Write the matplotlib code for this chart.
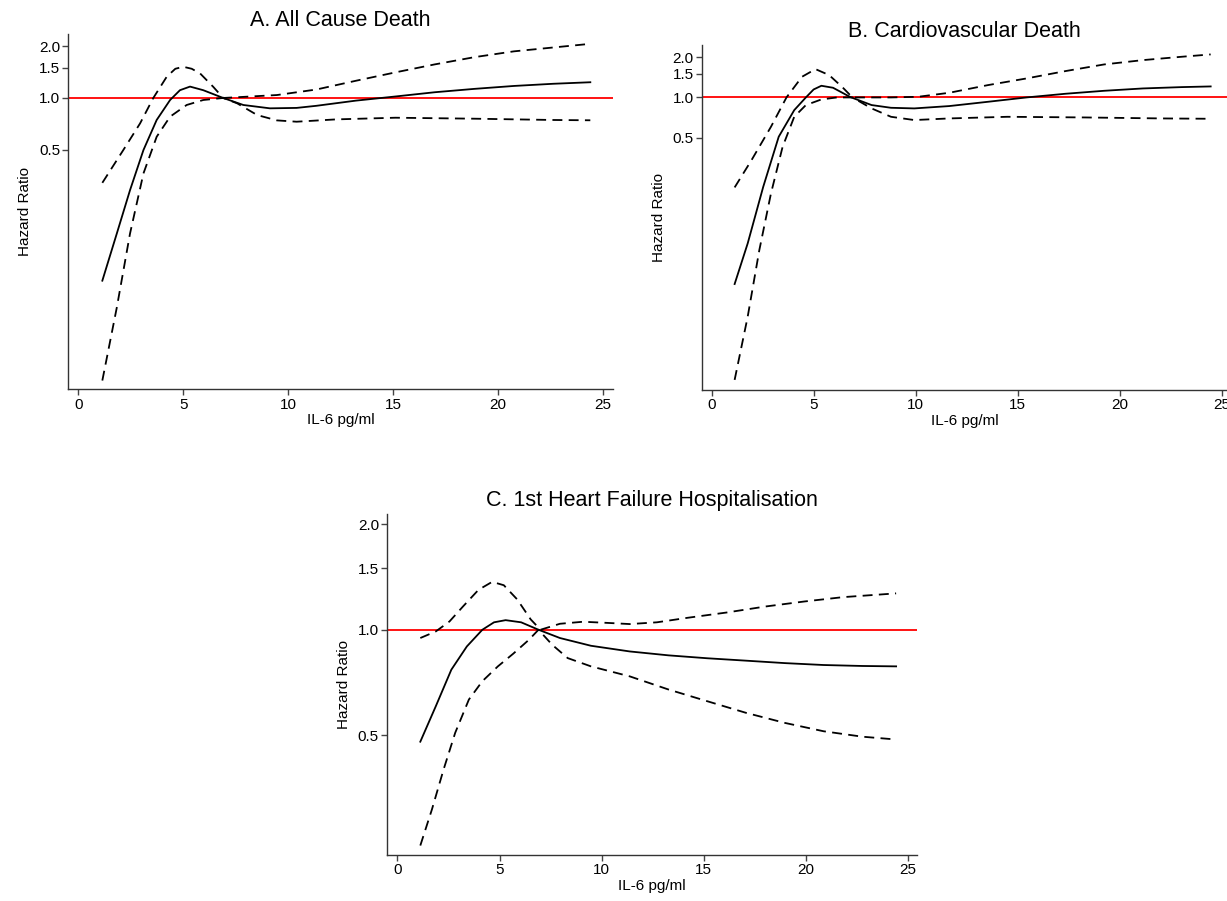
import matplotlib
matplotlib.use("Agg")
import matplotlib.pyplot as plt

plt.rcParams['font.family'] = ['Liberation Sans', 'DejaVu Sans']

# ---- A. All cause death ----
a_hr_x = [1.14, 1.83, 2.46, 3.10, 3.73, 4.37, 4.84, 5.32, 5.95, 6.90, 7.86, 9.13, 10.40,
          11.34, 13.23, 15.11, 16.99, 18.88, 20.76, 22.64, 24.40]
a_hr = [0.086, 0.162, 0.29, 0.497, 0.744, 0.973, 1.11, 1.165, 1.11, 1.0, 0.91, 0.87, 0.875,
        0.90, 0.965, 1.02, 1.08, 1.13, 1.175, 1.21, 1.235]
a_hi_x = [1.14, 2.14, 2.94, 3.57, 4.21, 4.62, 5.0, 5.40, 5.80, 6.43, 6.90, 7.57, 9.46, 11.34,
          13.23, 15.11, 16.99, 18.88, 20.76, 22.64, 24.25]
a_hi = [0.32, 0.497, 0.711, 1.0, 1.33, 1.48, 1.52, 1.48, 1.39, 1.16, 1.0, 1.01, 1.04, 1.12,
        1.26, 1.41, 1.57, 1.73, 1.87, 1.97, 2.06]
a_lo_x = [1.14, 1.83, 2.46, 3.10, 3.73, 4.37, 5.16, 5.95, 6.90, 7.57, 8.52, 9.46, 10.40,
          12.28, 15.11, 18.88, 22.64, 24.40]
a_lo = [0.0225, 0.060, 0.162, 0.363, 0.594, 0.778, 0.91, 0.973, 1.0, 0.93, 0.795, 0.74,
        0.727, 0.75, 0.767, 0.757, 0.744, 0.741]

# ---- B. Cardiovascular death ----
b_hr_x = [1.13, 1.77, 2.53, 3.29, 4.05, 4.62, 5.0, 5.38, 5.95, 6.80, 7.84, 8.79, 9.93, 11.64,
          13.54, 15.43, 17.33, 19.23, 21.13, 23.02, 24.45]
b_hr = [0.0405, 0.0814, 0.215, 0.509, 0.804, 1.0, 1.147, 1.222, 1.181, 1.006, 0.877, 0.837,
        0.828, 0.862, 0.928, 1.0, 1.065, 1.121, 1.167, 1.194, 1.208]
b_hi_x = [1.13, 1.96, 2.91, 3.67, 4.43, 5.09, 5.76, 6.42, 6.90, 8.79, 10.12, 11.64, 13.54,
          15.43, 17.33, 19.23, 21.13, 23.02, 24.45]
b_hi = [0.213, 0.341, 0.604, 1.0, 1.426, 1.627, 1.468, 1.188, 1.0, 1.0, 1.011, 1.083, 1.236,
        1.386, 1.572, 1.763, 1.899, 2.011, 2.094]
b_lo_x = [1.13, 1.77, 2.34, 2.91, 3.48, 4.05, 4.62, 5.38, 6.14, 6.90, 7.84, 8.79, 9.93, 11.64,
          14.49, 18.28, 22.08, 24.45]
b_lo = [0.0078, 0.0231, 0.0726, 0.192, 0.428, 0.717, 0.877, 0.966, 1.0, 1.0, 0.828, 0.717,
        0.678, 0.697, 0.717, 0.709, 0.697, 0.693]

# ---- C. 1st heart failure hospitalisation ----
c_hr_x = [1.12, 1.88, 2.64, 3.40, 4.16, 4.73, 5.30, 6.06, 6.91, 7.96, 9.48, 11.38, 13.28,
          15.18, 17.08, 18.98, 20.88, 22.78, 24.43]
c_hr = [0.479, 0.605, 0.769, 0.896, 1.0, 1.05, 1.065, 1.05, 1.0, 0.947, 0.90, 0.867, 0.845,
        0.829, 0.816, 0.803, 0.793, 0.788, 0.786]
c_hi_x = [1.12, 1.88, 2.55, 3.21, 3.97, 4.64, 5.21, 5.87, 6.53, 7.01, 7.96, 9.10, 10.43, 11.38,
          12.71, 14.23, 16.13, 18.03, 19.93, 21.83, 24.43]
c_hi = [0.947, 0.989, 1.056, 1.165, 1.30, 1.37, 1.34, 1.22, 1.07, 1.0, 1.04, 1.054, 1.045,
        1.038, 1.05, 1.082, 1.12, 1.165, 1.204, 1.239, 1.27]
c_lo_x = [1.12, 1.69, 2.26, 2.83, 3.50, 4.16, 4.92, 5.68, 6.44, 6.91, 7.58, 8.34, 9.48, 11.38,
          13.28, 15.18, 17.08, 18.98, 20.88, 22.78, 24.43]
c_lo = [0.242, 0.307, 0.399, 0.508, 0.632, 0.713, 0.786, 0.855, 0.936, 1.0, 0.906, 0.83, 0.786,
        0.736, 0.675, 0.625, 0.579, 0.542, 0.513, 0.495, 0.486]

y_ticks = [0.5, 1.0, 1.5, 2.0]
y_tick_labels = ['0.5', '1.0', '1.5', '2.0']
x_ticks = [0, 5, 10, 15, 20, 25]

panels = [
    ('A. All Cause Death', a_hr_x, a_hr, a_hi_x, a_hi, a_lo_x, a_lo),
    ('B. Cardiovascular Death', b_hr_x, b_hr, b_hi_x, b_hi, b_lo_x, b_lo),
    ('C. 1st Heart Failure Hospitalisation', c_hr_x, c_hr, c_hi_x, c_hi, c_lo_x, c_lo),
]

# axes rectangles and limits (figure fractions), matched to the reference layout
rects = [[0.0557, 0.5679, 0.4437, 0.3940],
         [0.5721, 0.5671, 0.4279, 0.3829],
         [0.3156, 0.0511, 0.4317, 0.3781]]
xlims = [(-0.48, 25.47), (-0.47, 25.25), (-0.5, 25.45)]
ylims = [(0.02, 2.35), (0.00655, 2.46), (0.2275, 2.136)]

fig = plt.figure(figsize=(12.27, 9.01), dpi=100)

for (title, hx, hy, ux, uy, lx, ly), rect, xl, yl in zip(panels, rects, xlims, ylims):
    ax = fig.add_axes(rect)
    ax.set_yscale('log')
    ax.axhline(1.0, color='red', linewidth=1.3, zorder=1)
    ax.plot(hx, hy, color='black', linewidth=1.3, zorder=3)
    ax.plot(ux, uy, color='black', linewidth=1.3, dashes=(5.5, 3.5), zorder=3)
    ax.plot(lx, ly, color='black', linewidth=1.3, dashes=(5.5, 3.5), zorder=3)

    ax.set_xlim(*xl)
    ax.set_ylim(*yl)
    ax.set_xticks(x_ticks)
    ax.set_yticks(y_ticks)
    ax.set_yticklabels(y_tick_labels)
    ax.minorticks_off()
    ax.tick_params(labelsize=11, length=4, width=1, color='#444444', pad=2)

    ax.spines['top'].set_visible(False)
    ax.spines['right'].set_visible(False)
    for s in ('left', 'bottom'):
        ax.spines[s].set_color('#333333')
        ax.spines[s].set_linewidth(1.0)

    ax.set_title(title, fontsize=15.5, pad=6)
    ax.set_xlabel('IL-6 pg/ml', fontsize=11, labelpad=1)
    ax.set_ylabel('Hazard Ratio', fontsize=11, labelpad=5)

fig.savefig('out.png', dpi=100)
